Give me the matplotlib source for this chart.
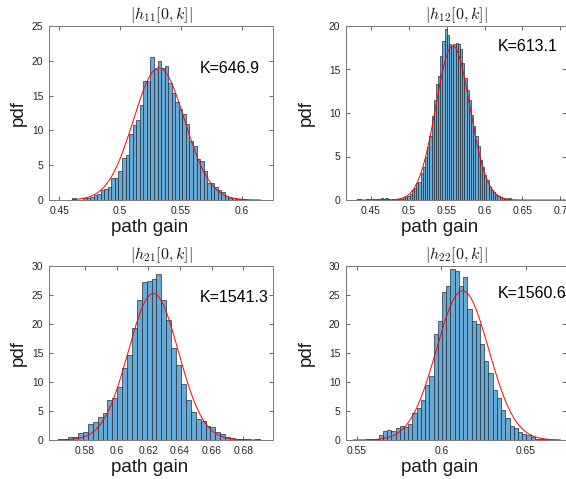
import numpy as np
import matplotlib
matplotlib.use("Agg")
import matplotlib.pyplot as plt
from matplotlib.ticker import FuncFormatter

plt.rcParams["font.family"] = ["Liberation Sans", "DejaVu Sans"]
plt.rcParams["mathtext.fontset"] = "cm"

# ---------------- |h11[0,k]| ----------------
h11_edge0 = 0.4607
h11_binw = 0.00292
h11_pdf = [0.25, 0, 0, 0.25, 0.35, 0.5, 0.7, 0.8, 1.5, 1.6,
           1.9, 3.2, 3.2, 4.1, 6.1, 6.5, 9.5, 10.8, 11.5, 13.6,
           17.1, 17.1, 20.5, 18.8, 20.0, 18.9, 19.3, 16.8, 15.4, 14.1,
           13.1, 12.4, 10.9, 8.5, 7.8, 5.9, 5.6, 4.2, 2.5, 2.4,
           1.8, 1.4, 1.1, 0.6, 0.35, 0.25, 0.2, 0.15, 0.1, 0.05,
           0.05, 0.05, 0.03]
h11_fit = (0.532, 0.021)
h11_K = 646.9
h11_xticks = [0.45, 0.5, 0.55, 0.6]
h11_yticks = [0, 5, 10, 15, 20, 25]
h11_xlim = (0.4415, 0.6258)
h11_ylim = (0, 25)

# ---------------- |h12[0,k]| ----------------
h12_edge0 = 0.4313
h12_binw = 0.0029
h12_pdf = [0.07, 0.07, 0, 0, 0.1, 0.07, 0, 0.07, 0.1, 0.15,
           0.15, 0.2, 0.15, 0.2, 0.07, 0, 0.07, 0, 0.07, 0.1,
           0.15, 0.2, 0.3, 0.45, 0.65,
           1.15, 1.35, 1.9, 2.1, 3.15, 3.85, 5.0, 6.1, 7.3, 9.6,
           11.5, 13.3, 14.2, 16.5, 18.3, 19.6, 19.0, 17.9, 17.7, 17.9,
           18.1, 17.9, 17.3, 15.8, 14.0, 12.7, 11.5, 9.8, 8.5, 7.3,
           6.2, 4.6, 3.85, 2.9, 2.3, 1.5,
           1.2, 0.9, 0.6, 0.45, 0.3, 0.2, 0.15, 0.1, 0.2, 0.05,
           0.05, 0, 0.05, 0, 0.05, 0, 0.05, 0, 0, 0.05,
           0, 0, 0.05, 0, 0, 0.05, 0, 0.05, 0, 0.05,
           0, 0.05, 0, 0.05]
h12_fit = (0.558, 0.0225)
h12_K = 613.1
h12_xticks = [0.45, 0.5, 0.55, 0.6, 0.65, 0.7]
h12_yticks = [0, 5, 10, 15, 20]
h12_xlim = (0.417, 0.7075)
h12_ylim = (0, 20)

# ---------------- |h21[0,k]| ----------------
h21_edge0 = 0.5632
h21_binw = 0.0031
h21_pdf = [0.1, 0.1, 0.6, 0.6, 1.25, 1.4, 2.75, 3.15, 4.0, 4.7,
           6.9, 7.2, 9.2, 12.5, 14.7, 19.3, 24.1, 27.2, 27.5, 27.7,
           28.6, 24.1, 20.7, 15.8, 12.9, 9.7, 6.9, 4.9, 3.7, 3.2,
           2.4, 2.3, 1.4, 1.0, 0.6, 0.35, 0.25, 0.2, 0.1, 0.05,
           0.1]
h21_fit = (0.6232, 0.0158)
h21_K = 1541.3
h21_xticks = [0.58, 0.6, 0.62, 0.64, 0.66, 0.68]
h21_yticks = [0, 5, 10, 15, 20, 25, 30]
h21_xlim = (0.5573, 0.6988)
h21_ylim = (0, 30)

# ---------------- |h22[0,k]| ----------------
h22_edge0 = 0.5478
h22_binw = 0.0025
h22_pdf = [0.05, 0, 0.05, 0.1, 0.1,
           0.2, 0.85, 1.6, 1.75, 1.6, 2.0, 2.4, 2.2, 2.7, 4.6,
           5.5, 6.9, 9.5, 11.1, 18.2, 20.6, 25.5, 26.6, 29.4, 29.2,
           26.6, 28.1, 22.6, 20.6, 20.0, 16.5, 13.6, 11.6, 8.7, 7.2,
           5.1, 3.8, 2.4, 2.0, 1.45, 1.0, 0.85, 0.45, 0.2, 0.15,
           0.1, 0.05, 0.05, 0.05]
h22_fit = (0.6125, 0.0155)
h22_K = 1560.6
h22_xticks = [0.55, 0.6, 0.65]
h22_yticks = [0, 5, 10, 15, 20, 25, 30]
h22_xlim = (0.5435, 0.6737)
h22_ylim = (0, 30)

panels = [
    (r"$|h_{11}[0,k]|$", h11_edge0, h11_binw, h11_pdf, h11_fit, h11_K,
     h11_xticks, h11_yticks, h11_xlim, h11_ylim, (0.674, 0.753)),
    (r"$|h_{12}[0,k]|$", h12_edge0, h12_binw, h12_pdf, h12_fit, h12_K,
     h12_xticks, h12_yticks, h12_xlim, h12_ylim, (0.69, 0.881)),
    (r"$|h_{21}[0,k]|$", h21_edge0, h21_binw, h21_pdf, h21_fit, h21_K,
     h21_xticks, h21_yticks, h21_xlim, h21_ylim, (0.671, 0.818)),
    (r"$|h_{22}[0,k]|$", h22_edge0, h22_binw, h22_pdf, h22_fit, h22_K,
     h22_xticks, h22_yticks, h22_xlim, h22_ylim, (0.69, 0.843)),
]

W, H = 566, 479
fig = plt.figure(figsize=(W / 100, H / 100), dpi=100)

# axes rectangles in pixels: left, top, width, height, xlabel centre, ylabel centre
rects_px = [(49, 26, 224, 174, 150, 18), (346, 26, 220, 174, 440, 306),
            (49, 266, 224, 174, 150, 18), (346, 266, 220, 174, 440, 306)]

face = (0.40, 0.668, 0.845)
edge = "#26303a"
axis_col = "#262626"
fmt = FuncFormatter(lambda v, p: f"{v:g}")

for (title, e0, bw, pdf, fit, K, xt, yt, xl, yl, kpos), (l, t, w, h, xlc, ylc) in zip(panels, rects_px):
    ax = fig.add_axes([l / W, 1 - (t + h) / H, w / W, h / H])
    pdf = np.asarray(pdf, dtype=float)
    edges = e0 + bw * np.arange(len(pdf) + 1)
    ax.bar(edges[:-1], pdf, width=bw, align="edge", color=face,
           edgecolor=edge, linewidth=0.5, zorder=2)

    mu, sd = fit
    xs = np.linspace(edges[0], edges[-1], 400)
    ys = np.exp(-0.5 * ((xs - mu) / sd) ** 2) / (sd * np.sqrt(2 * np.pi))
    ax.plot(xs, ys, color="red", linewidth=0.7, zorder=3)

    ax.set_xlim(*xl)
    ax.set_ylim(*yl)
    ax.set_xticks(xt)
    ax.set_yticks(yt)
    ax.xaxis.set_major_formatter(fmt)
    ax.yaxis.set_major_formatter(fmt)
    ax.tick_params(direction="in", top=True, right=True, length=3,
                   width=0.5, colors=axis_col, labelsize=7.4, pad=4)
    for s in ax.spines.values():
        s.set_color("#7a7a7a")
        s.set_linewidth(0.7)

    ax.set_xlabel("path gain", fontsize=13.5, color="#1a1a1a")
    ax.xaxis.label.set_verticalalignment("center")
    ax.xaxis.set_label_coords((xlc - l) / w, -27 / h)
    ax.set_ylabel("pdf", fontsize=13.5, color="#1a1a1a")
    ax.yaxis.label.set_verticalalignment("center")
    ax.yaxis.set_label_coords((ylc - l) / w, 0.5)

    ax.text(0.5, 1 + 11 / h, title, transform=ax.transAxes,
            ha="center", va="center", fontsize=11.5, color="#1a1a1a")
    ax.text(kpos[0], kpos[1], f"K={K}", transform=ax.transAxes,
            ha="left", va="center", fontsize=11.5, color="black",
            clip_on=False)

fig.savefig("out.png", dpi=100)
